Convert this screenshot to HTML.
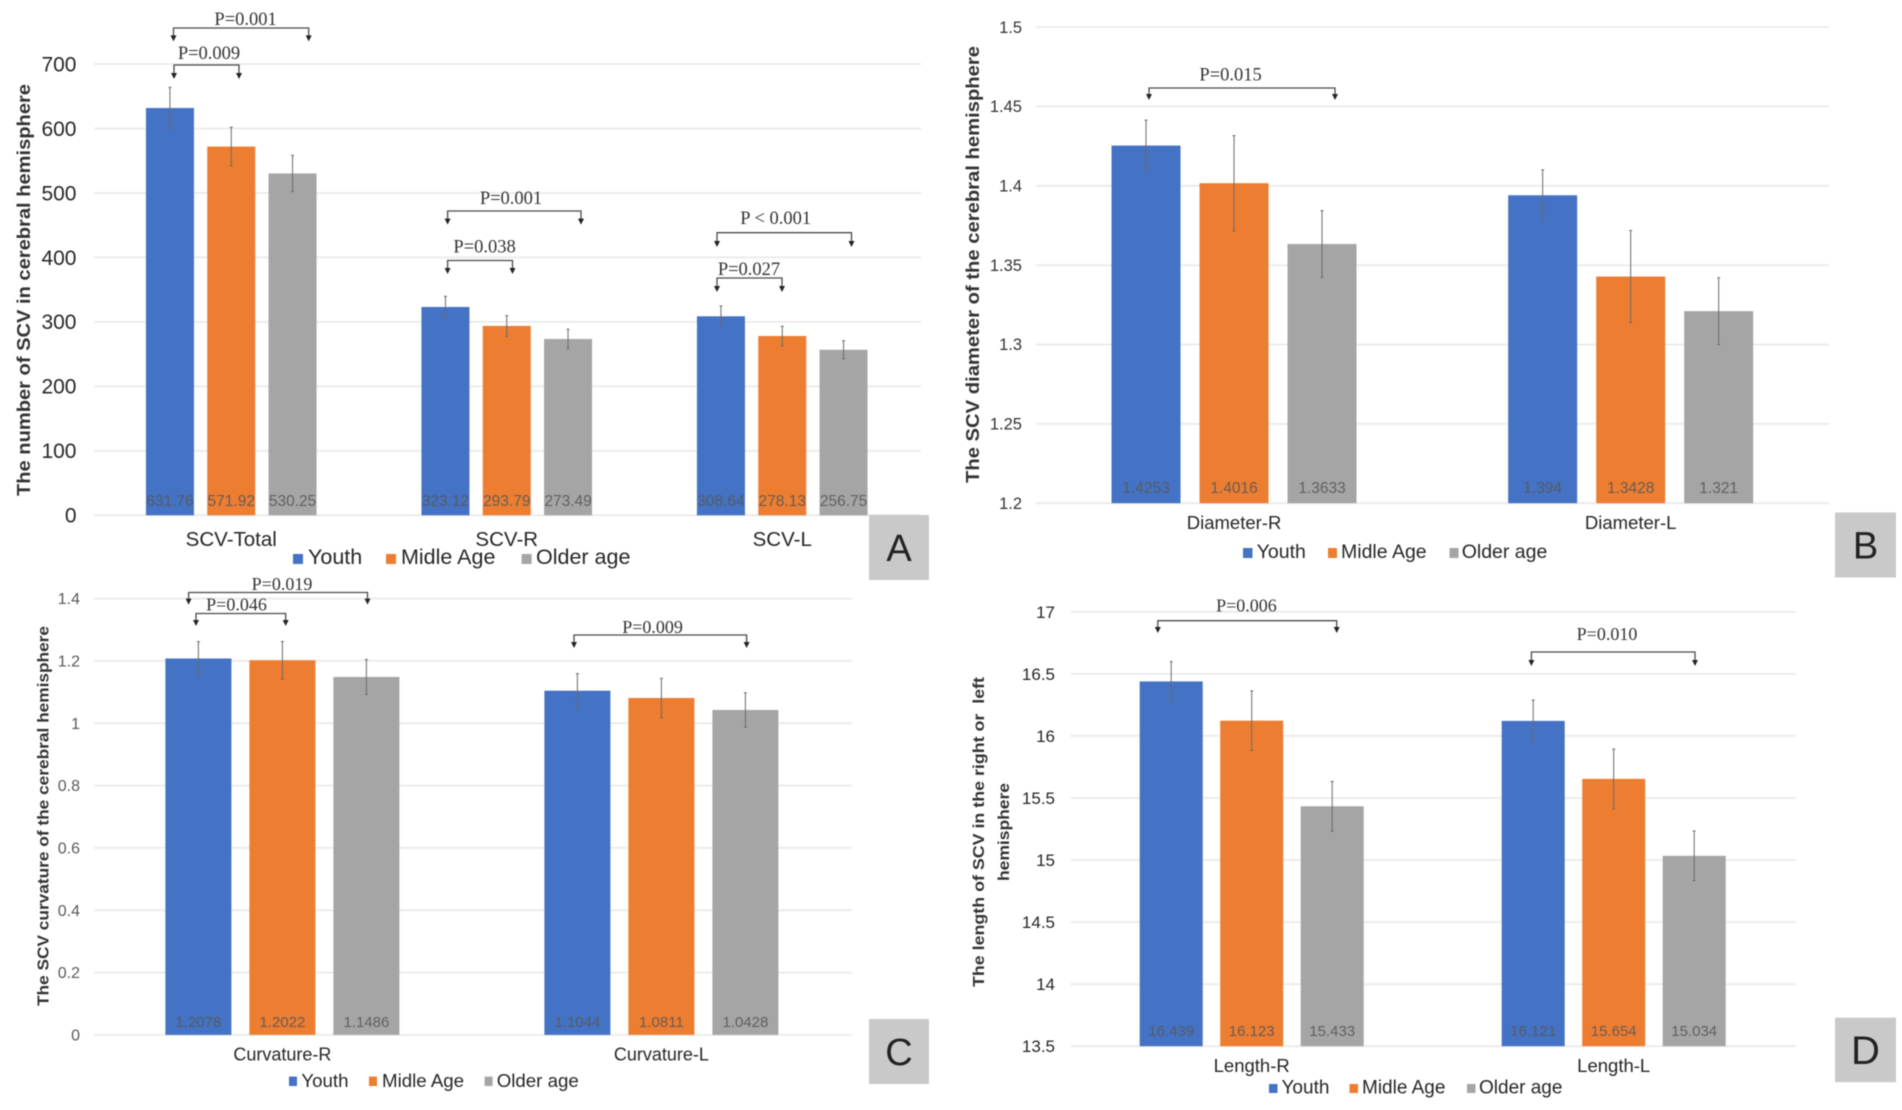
<!DOCTYPE html>
<html lang="en">
<head>
<meta charset="utf-8">
<title>SCV measures by age group</title>
<style>
html,body{margin:0;padding:0;background:#fff;}
#figure{display:block;filter:blur(0.5px);}
text{font-family:"Liberation Sans",sans-serif;white-space:pre;}
</style>
</head>
<body>
<svg id="figure" xmlns="http://www.w3.org/2000/svg" width="1902" height="1110" viewBox="0 0 1902 1110"></svg>
<script>
const seriesNames = ["Youth", "Midle Age", "Older age"];
const seriesColors = ["#4472C4", "#ED7D31", "#A5A5A5"];

const panelACategories = ["SCV-Total", "SCV-R", "SCV-L"];
const panelATicks = ["0", "100", "200", "300", "400", "500", "600", "700"];
const panelAYouth = [631.76, 323.12, 308.64];
const panelAMidle = [571.92, 293.79, 278.13];
const panelAOlder = [530.25, 273.49, 256.75];
const panelAYouthErr = [32, 16.5, 16];
const panelAMidleErr = [30, 16, 15];
const panelAOlderErr = [28, 15, 14];

const panelBCategories = ["Diameter-R", "Diameter-L"];
const panelBTicks = ["1.2", "1.25", "1.3", "1.35", "1.4", "1.45", "1.5"];
const panelBYouth = [1.4253, 1.394];
const panelBMidle = [1.4016, 1.3428];
const panelBOlder = [1.3633, 1.321];
const panelBYouthErr = [0.016, 0.016];
const panelBMidleErr = [0.03, 0.029];
const panelBOlderErr = [0.021, 0.021];

const panelCCategories = ["Curvature-R", "Curvature-L"];
const panelCTicks = ["0", "0.2", "0.4", "0.6", "0.8", "1", "1.2", "1.4"];
const panelCYouth = [1.2078, 1.1044];
const panelCMidle = [1.2022, 1.0811];
const panelCOlder = [1.1486, 1.0428];
const panelCYouthErr = [0.054, 0.055];
const panelCMidleErr = [0.06, 0.063];
const panelCOlderErr = [0.056, 0.055];

const panelDCategories = ["Length-R", "Length-L"];
const panelDTicks = ["13.5", "14", "14.5", "15", "15.5", "16", "16.5", "17"];
const panelDYouth = [16.439, 16.121];
const panelDMidle = [16.123, 15.654];
const panelDOlder = [15.433, 15.034];
const panelDYouthErr = [0.16, 0.167];
const panelDMidleErr = [0.24, 0.24];
const panelDOlderErr = [0.2, 0.2];

const NS = "http://www.w3.org/2000/svg";
const figure = document.getElementById("figure");

function make(parent, tag, attrs, content) {
  const node = document.createElementNS(NS, tag);
  for (const key in attrs) node.setAttribute(key, attrs[key]);
  if (content !== undefined) node.textContent = content;
  parent.appendChild(node);
  return node;
}

function drawPanel(o) {
  const g = make(figure, "g", {});
  
  

  const tickValues = o.ticks.map(Number);
  const yMin = Math.min.apply(null, tickValues);
  const yMax = Math.max.apply(null, tickValues);
  const yScale = function (v) {
    return o.yBottom + (v - yMin) / (yMax - yMin) * (o.yTop - o.yBottom);
  };
  const bandWidth = (o.plotRight - o.plotLeft) / o.categories.length;
  const xCenter = function (i) {
    return o.plotLeft + bandWidth * (i + 0.5);
  };

  o.ticks.forEach(function (tick) {
    const y = yScale(Number(tick));
    const line = make(g, "line", {x1: o.gridLeft, x2: o.gridRight, y1: y, y2: y, stroke: "#ececec", "stroke-width": 2});
    
    
    const label = make(g, "text", {x: o.tickX, y: y + o.tickSize * 0.35, "text-anchor": "end", "font-size": o.tickSize, fill: o.tickColor}, tick);
    
    
  });

  o.series.forEach(function (values, s) {
    values.forEach(function (value, i) {
      const cx = xCenter(i) + (s - 1) * o.barStep;
      const top = yScale(value);
      const bar = make(g, "rect", {x: cx - o.barWidth / 2, y: top, width: o.barWidth, height: o.yBottom - top, fill: seriesColors[s]});
      
      

      const err = o.errors[s][i];
      const errPath = "M" + cx + " " + yScale(value + err) + "V" + yScale(value - err) +
        "M" + (cx - 1.5) + " " + yScale(value + err) + "h3M" + (cx - 1.5) + " " + yScale(value - err) + "h3";
      const errorBar = make(g, "path", {d: errPath, stroke: "#6b6b6b", "stroke-width": 1, fill: "none"});
      
      

      const dataLabel = make(g, "text", {x: cx, y: o.labelY, "text-anchor": "middle", "font-size": o.labelSize, fill: "#595959", "fill-opacity": 0.9}, String(value));
      
      
    });
  });

  o.categories.forEach(function (category, i) {
    const catLabel = make(g, "text", {x: xCenter(i), y: o.catY, "text-anchor": "middle", "font-size": o.catSize, fill: "#262626"}, category);
    
    
  });
  return g;
}

function yTitle(parent, text, x, yCenter, length, size) {
  const title = make(parent, "text", {
    x: x, y: yCenter, "text-anchor": "middle", "font-size": size, "font-weight": "bold", fill: "#333",
    textLength: length, lengthAdjust: "spacingAndGlyphs",
    transform: "rotate(-90 " + x + " " + yCenter + ")"
  }, text);
  
  
}

function legendEntry(parent, index, squareX, squareW, top, bottom, textX, baseline, size) {
  const swatch = make(parent, "rect", {x: squareX, y: top, width: squareW, height: bottom - top, fill: seriesColors[index]});
  
  
  const entry = make(parent, "text", {x: textX, y: baseline, "font-size": size, fill: "#262626"}, seriesNames[index]);
  
  
}

function bracket(parent, text, x1, x2, y, arrowEnd, textX, textY, size) {
  const shape = make(parent, "path", {
    d: "M" + x1 + " " + (arrowEnd - 5) + "V" + y + "H" + x2 + "V" + (arrowEnd - 5),
    fill: "none", stroke: "#4a4a4a", "stroke-width": 1.3
  });
  
  
  [x1, x2].forEach(function (x) {
    const tip = make(parent, "polygon", {
      points: (x - 3) + "," + (arrowEnd - 6) + " " + (x + 3) + "," + (arrowEnd - 6) + " " + x + "," + arrowEnd,
      fill: "#222"
    });
    
    
  });
  const label = make(parent, "text", {
    x: textX, y: textY, "text-anchor": "middle", "font-size": size, fill: "#333",
    style: 'font-family:"Liberation Serif",serif'
  }, text);
  
  
}

function panelLetter(parent, letter, x, y, w, h, size) {
  const box = make(parent, "rect", {x: x, y: y, width: w, height: h, fill: "#c9c9c9"});
  
  
  const mark = make(parent, "text", {x: x + w / 2, y: y + h / 2 + size * 0.35, "text-anchor": "middle", "font-size": size, fill: "#222"}, letter);
  
  
}

/* Panel A */
const panelA = drawPanel({
  id: "a", categories: panelACategories, ticks: panelATicks,
  series: [panelAYouth, panelAMidle, panelAOlder],
  errors: [panelAYouthErr, panelAMidleErr, panelAOlderErr],
  yTop: 64, yBottom: 515.3, plotLeft: 93.5, plotRight: 920, gridLeft: 94, gridRight: 921,
  barWidth: 48, barStep: 61.3, tickX: 76.5, tickSize: 21, tickColor: "#262626",
  labelY: 506, labelSize: 15.5, catY: 546, catSize: 20.5
});
yTitle(panelA, "The number of SCV in cerebral hemisphere", 30, 290, 412, 18);
legendEntry(panelA, 0, 293, 10, 554, 564, 308, 564, 21.5);
legendEntry(panelA, 1, 386, 10, 554, 564, 401, 564, 21.5);
legendEntry(panelA, 2, 521.6, 10, 554, 564, 536, 564, 21.5);
bracket(panelA, "P=0.001", 173.5, 308.7, 28, 41.4, 245.6, 25, 18.5);
bracket(panelA, "P=0.009", 174, 239, 65, 79, 209, 59, 18.5);
bracket(panelA, "P=0.001", 447.6, 581, 211, 224.6, 511, 204, 18.5);
bracket(panelA, "P=0.038", 447.6, 512.5, 260.5, 274, 484.6, 252.7, 18.5);
bracket(panelA, "P < 0.001", 717, 851.5, 232.7, 247, 775.7, 224, 18.5);
bracket(panelA, "P=0.027", 717, 782, 278, 292, 749, 275, 18.5);
panelLetter(panelA, "A", 869, 515, 60, 65, 38);

/* Panel B */
const panelB = drawPanel({
  id: "b", categories: panelBCategories, ticks: panelBTicks,
  series: [panelBYouth, panelBMidle, panelBOlder],
  errors: [panelBYouthErr, panelBMidleErr, panelBOlderErr],
  yTop: 27, yBottom: 503.2, plotLeft: 1035.7, plotRight: 1829, gridLeft: 1036, gridRight: 1829,
  barWidth: 69, barStep: 88, tickX: 1022, tickSize: 16.5, tickColor: "#333",
  labelY: 493, labelSize: 15.5, catY: 529, catSize: 18.5
});
yTitle(panelB, "The SCV diameter of the cerebral hemisphere", 979, 264.5, 437, 18);
legendEntry(panelB, 0, 1243, 9.5, 548, 558, 1256.7, 558, 19.5);
legendEntry(panelB, 1, 1328, 9, 548, 558, 1341, 558, 19.5);
legendEntry(panelB, 2, 1449.5, 9, 548, 558, 1461.7, 558, 19.5);
bracket(panelB, "P=0.015", 1149, 1335, 88, 100, 1230.6, 80.7, 18.5);
panelLetter(panelB, "B", 1835, 512.5, 61, 65, 38);

/* Panel C */
const panelC = drawPanel({
  id: "c", categories: panelCCategories, ticks: panelCTicks,
  series: [panelCYouth, panelCMidle, panelCOlder],
  errors: [panelCYouthErr, panelCMidleErr, panelCOlderErr],
  yTop: 598.6, yBottom: 1034.9, plotLeft: 92.9, plotRight: 850.9, gridLeft: 94, gridRight: 852,
  barWidth: 66, barStep: 84, tickX: 80, tickSize: 16, tickColor: "#595959",
  labelY: 1027, labelSize: 15, catY: 1060.5, catSize: 18
});
yTitle(panelC, "The SCV curvature of the cerebral hemisphere", 48.5, 816, 380, 16);
legendEntry(panelC, 0, 289, 8, 1076.6, 1086, 301.4, 1087, 18.7);
legendEntry(panelC, 1, 369, 8, 1076.6, 1086, 382, 1087, 18.7);
legendEntry(panelC, 2, 484.6, 8, 1076.6, 1086, 496.7, 1087, 18.7);
bracket(panelC, "P=0.019", 188.6, 367.5, 592.5, 604.6, 282, 590, 18);
bracket(panelC, "P=0.046", 196, 285.7, 613.5, 626, 236.5, 610.7, 18);
bracket(panelC, "P=0.009", 574, 746.6, 635, 648, 652.6, 633, 18);
panelLetter(panelC, "C", 869, 1019, 60, 65, 38);

/* Panel D */
const panelD = drawPanel({
  id: "d", categories: panelDCategories, ticks: panelDTicks,
  series: [panelDYouth, panelDMidle, panelDOlder],
  errors: [panelDYouthErr, panelDMidleErr, panelDOlderErr],
  yTop: 611.8, yBottom: 1046.2, plotLeft: 1070.7, plotRight: 1794.7, gridLeft: 1070.5, gridRight: 1796,
  barWidth: 63, barStep: 80.5, tickX: 1055, tickSize: 17, tickColor: "#262626",
  labelY: 1036, labelSize: 15, catY: 1072, catSize: 18.5
});
yTitle(panelD, "The length of SCV in the right or  left", 984, 832, 310, 16);
yTitle(panelD, "hemisphere", 1009, 832, 98, 16);
legendEntry(panelD, 0, 1269, 8.5, 1084, 1093, 1281.5, 1093.7, 19);
legendEntry(panelD, 1, 1349.5, 8.5, 1084, 1093, 1362, 1093.7, 19);
legendEntry(panelD, 2, 1467, 8.5, 1084, 1093, 1479, 1093.7, 19);
bracket(panelD, "P=0.006", 1157.8, 1336.7, 620.7, 633, 1246.4, 611.4, 18);
bracket(panelD, "P=0.010", 1531.4, 1695, 652, 666, 1607, 640, 18);
panelLetter(panelD, "D", 1835, 1017.7, 61, 64.5, 40);
</script>
</body>
</html>
